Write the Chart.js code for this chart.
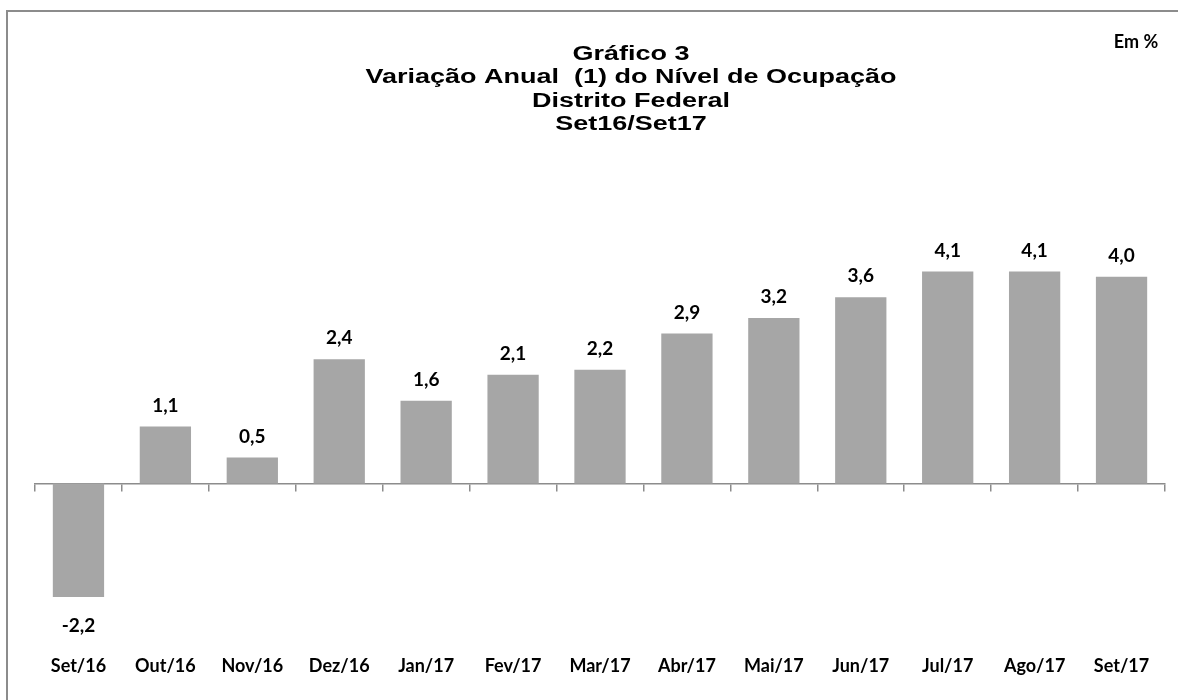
<!DOCTYPE html>
<html>
<head>
<meta charset="utf-8">
<script src="https://cdn.jsdelivr.net/npm/chart.js@4"></script>
<style>
  html, body { margin: 0; padding: 0; background: #fff; }
  #wrap { position: relative; width: 1178px; height: 700px; overflow: hidden; }
  #frame { position: absolute; left: 6px; top: 10px; width: 1300px; height: 900px;
           border: 2px solid #8c8c8c; pointer-events: none; }
</style>
</head>
<body>
<div id="wrap">
  <canvas id="chart" width="1178" height="700"></canvas>
  <div id="frame"></div>
</div>
<script>
// data
const months = ['Set/16','Out/16','Nov/16','Dez/16','Jan/17','Fev/17','Mar/17',
                'Abr/17','Mai/17','Jun/17','Jul/17','Ago/17','Set/17'];
const variation = [-2.2, 1.1, 0.5, 2.4, 1.6, 2.1, 2.2, 2.9, 3.2, 3.6, 4.1, 4.1, 4.0];
const titleLines = ['Gráfico 3', 'Variação Anual  (1) do Nível de Ocupação', 'Distrito Federal', 'Set16/Set17'];
const unitNote = 'Em %';

const fmt = v => v.toFixed(1).replace('.', ',');

// title (the original is a bit stretched horizontally), value labels, "Em %"
const chartText = {
  id: 'chartText',
  afterDatasetsDraw(chart) {
    const { ctx } = chart;
    ctx.save();
    ctx.fillStyle = '#000';
    ctx.textAlign = 'center';

    ctx.font = 'bold 20px "Liberation Sans", Arial, sans-serif';
    ctx.textBaseline = 'alphabetic';
    titleLines.forEach((line, i) => {
      ctx.save();
      ctx.translate(631, 60 + i * 23.4);
      ctx.scale(1.35, 1);
      ctx.fillText(line, 0, 0);
      ctx.restore();
    });

    ctx.textBaseline = 'middle';
    ctx.font = 'bold 19px Lato';
    const meta = chart.getDatasetMeta(0);
    meta.data.forEach((bar, i) => {
      const v = variation[i];
      const y = v >= 0 ? bar.y - 21 : bar.y + 29;
      ctx.fillText(fmt(v), bar.x, y);
    });

    ctx.font = 'bold 18px Lato';
    ctx.fillText(unitNote, 1136, 42);
    ctx.restore();
  }
};

new Chart(document.getElementById('chart'), {
  type: 'bar',
  data: {
    labels: months,
    datasets: [{
      data: variation,
      backgroundColor: '#a6a6a6',
      borderWidth: 0,
      barPercentage: 0.59,
      categoryPercentage: 1,
    }]
  },
  options: {
    responsive: false,
    animation: false,
    layout: { padding: { left: 35, right: 13, top: 225, bottom: 14 } },
    plugins: {
      legend: { display: false },
      tooltip: { enabled: false },
      title: { display: false }
    },
    scales: {
      x: {
        grid: { display: false },
        border: { display: false },
        ticks: { color: '#000', padding: 9, font: { family: 'Lato', size: 18, weight: 'bold' }, maxRotation: 0 }
      },
      x2: {
        type: 'category',
        labels: months,
        position: { y: 0 },
        offset: true,
        grid: { display: true, drawOnChartArea: false, drawTicks: true, tickLength: 7, color: '#8c8c8c', lineWidth: 1.5, offset: true },
        border: { display: true, color: '#8c8c8c', width: 1.5 },
        ticks: { display: false }
      },
      y: {
        display: false,
        min: -3,
        max: 5
      }
    }
  },
  plugins: [chartText]
});
</script>
</body>
</html>
